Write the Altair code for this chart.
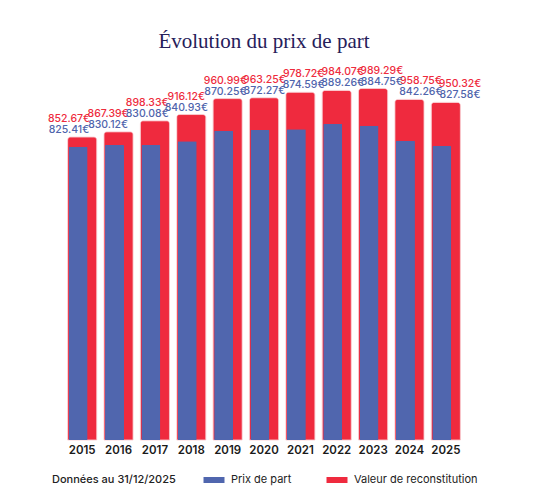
import pandas as pd
import altair as alt

# valeurs
annees = ["2015", "2016", "2017", "2018", "2019", "2020", "2021", "2022", "2023", "2024", "2025"]
prix_part = [825.41, 830.12, 830.08, 840.93, 870.25, 872.27, 874.59, 889.26, 884.75, 842.26, 827.58]
val_recon = [852.67, 867.39, 898.33, 916.12, 960.99, 963.25, 978.72, 984.07, 989.29, 958.75, 950.32]
series = ["Prix de part", "Valeur de reconstitution"]

BLEU = "#5066AE"
ROUGE = "#EF2A3E"
FONT = "Inter"

df = pd.DataFrame({"annee": annees, "prix": prix_part, "valeur": val_recon})
df["lbl_prix"] = [f"{v:.2f}€" for v in prix_part]
df["lbl_valeur"] = [f"{v:.2f}€" for v in val_recon]

long_df = pd.concat([
    pd.DataFrame({"annee": annees, "montant": prix_part, "serie": series[0]}),
    pd.DataFrame({"annee": annees, "montant": val_recon, "serie": series[1]}),
])

y_scale = alt.Scale(domain=[0, 988], nice=False)
x_band = alt.Scale(paddingInner=0.2, paddingOuter=0.1)
x_axe = alt.Axis(labelAngle=0, domain=False, ticks=False, labelPadding=4,
                 labelFont=FONT, labelFontSize=11.5, labelFontWeight=600,
                 labelColor="#1a1a1a")
couleur = alt.Color("serie:N", scale=alt.Scale(domain=series, range=[BLEU, ROUGE]),
                    legend=alt.Legend(
                        title="Données au 31/12/2025", titleOrient="left",
                        orient="none", legendX=-12, legendY=385, direction="horizontal",
                        symbolType="M-1.75,-0.5H1.75V0.5H-1.75Z", symbolSize=144,
                        symbolStrokeWidth=0, labelOffset=11, columnPadding=34,
                        titlePadding=32, labelFont=FONT, titleFont=FONT,
                        labelFontSize=11, titleFontSize=11, titleFontWeight=500,
                        labelColor="#222", titleColor="#222"))

rouge = alt.Chart(long_df[long_df.serie == series[1]]).mark_bar(
    cornerRadiusTopLeft=3, cornerRadiusTopRight=3, stroke="#f6b3ba", strokeWidth=0.6
).encode(
    x=alt.X("annee:N", scale=x_band, title=None, axis=x_axe),
    y=alt.Y("montant:Q", scale=y_scale, axis=None),
    color=couleur,
)

bleu = alt.Chart(long_df[long_df.serie == series[0]]).mark_bar(
    width=19, xOffset=-4, cornerRadiusTopLeft=1, cornerRadiusTopRight=1
).encode(
    x=alt.X("annee:N", scale=x_band, title=None, axis=x_axe),
    y=alt.Y("montant:Q", scale=y_scale, axis=None),
    color=couleur,
)

x_lbl = alt.X("annee:N", scale=alt.Scale(type="point", range=[5, 396], padding=0), axis=None)
txt_valeur = alt.Chart(df).mark_text(
    dy=-15, baseline="alphabetic", font=FONT, fontSize=10.5, fontWeight=500, color="#EE2B3D"
).encode(x=x_lbl, y=alt.Y("valeur:Q", scale=y_scale, axis=None), text="lbl_valeur:N")
txt_prix = alt.Chart(df).mark_text(
    dy=-4, baseline="alphabetic", font=FONT, fontSize=10.5, fontWeight=500, color="#4F64AC"
).encode(x=x_lbl, y=alt.Y("valeur:Q", scale=y_scale, axis=None), text="lbl_prix:N")

chart = alt.layer(
    alt.layer(rouge, bleu),
    alt.layer(txt_valeur, txt_prix),
).resolve_scale(x="independent").properties(
    width=400, height=351,
    autosize=alt.AutoSizeParams(type="none"),
    padding={"left": 56, "top": 81, "right": 65, "bottom": 52},
    title=alt.TitleParams("Évolution du prix de part", font="Liberation Serif",
                          fontSize=21, fontWeight="normal", color="#26205a",
                          anchor="middle", offset=14),
).configure_view(stroke=None)

chart.save("out.html", embed_options={"renderer": "svg", "actions": False})
